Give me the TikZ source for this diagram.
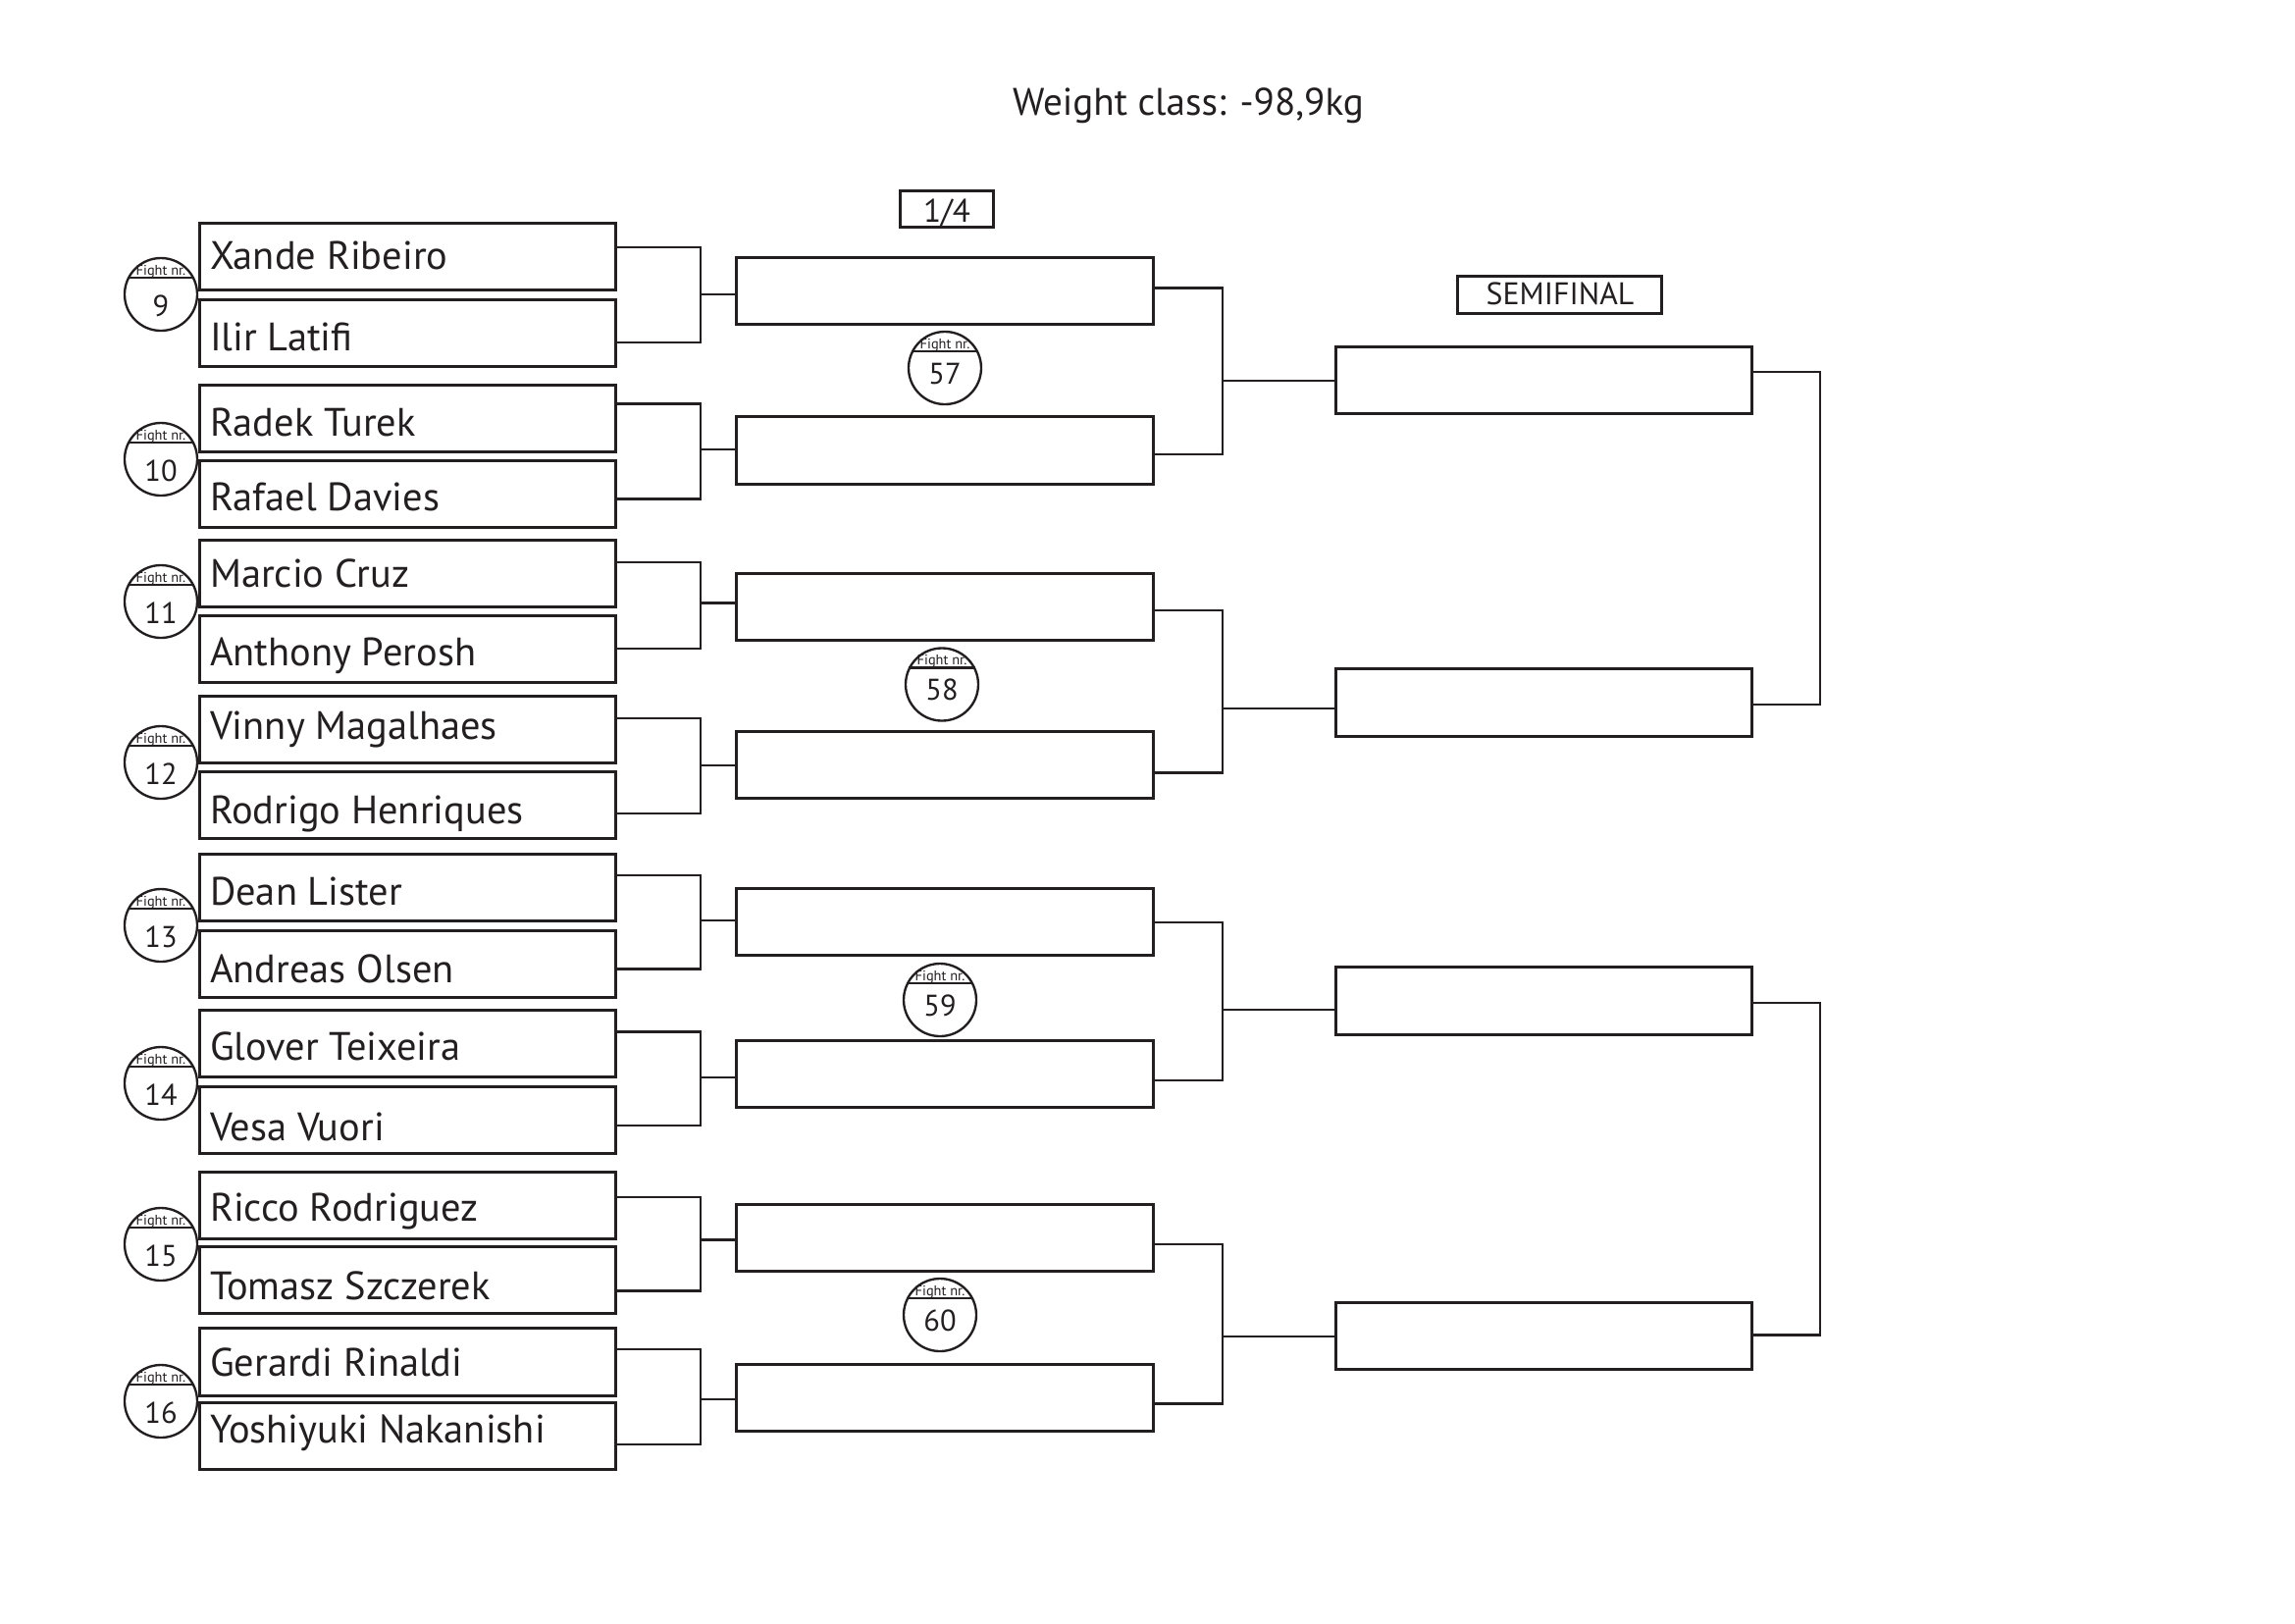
\documentclass[tikz,border=0pt]{standalone}
\usepackage{fontspec}
\setmainfont{PT Sans}
\usetikzlibrary{calc}
\definecolor{ink}{HTML}{231F20}
\begin{document}
\begin{tikzpicture}[x=0.127mm,y=-0.127mm,
  every node/.style={text=ink},
  namebox/.style={draw=ink, line width=1.1pt, rectangle, inner sep=0pt, outer sep=0pt,
    minimum width=53.85mm, minimum height=8.65mm},
  nametext/.style={anchor=base west, inner sep=0pt, font=\fontsize{14.6}{17}\selectfont},
  fightc/.style={draw=ink, line width=0.85pt, circle, fill=white, inner sep=0pt, outer sep=0pt, minimum size=9.4mm},
  fnr/.style={anchor=base, inner sep=0pt, font=\fontsize{5.2}{6}\selectfont},
  fnum/.style={anchor=base, inner sep=0pt, font=\fontsize{11}{13}\selectfont},
  chord/.style={draw=ink, line width=0.85pt},
  br/.style={draw=ink, line width=1pt},
  roundlbl/.style={draw=ink, line width=1pt, rectangle, inner sep=0pt, outer sep=0pt},
  lbltext/.style={anchor=base, inner sep=0pt, font=\fontsize{11.5}{14}\selectfont}]
\useasboundingbox (0,0) rectangle (2339,1654);

% title
\node[anchor=base, inner sep=0pt, font=\fontsize{14.15}{17}\selectfont] (title) at (1211,117) {Weight class: -98,9kg};

% round labels
\node[roundlbl, minimum width=12.1mm, minimum height=4.75mm] (lq) at (965,213) {};
\node[lbltext, font=\fontsize{12}{14}\selectfont] (lqt) at (965,226) {1/4};
\node[roundlbl, minimum width=26.5mm, minimum height=4.85mm] (ls) at (1589.5,300.5) {};
\node[lbltext] (lst) at (1590,310) {SEMIFINAL};

% competitor boxes (index / top / baseline offset above bottom / name)
\foreach \k/\ty/\bo/\nm in {1/226/21/Xande Ribeiro, 2/304.3/16/Ilir Latifi, 3/391/15.7/Radek Turek, 4/468.4/17/Rafael Davies,
  5/549.3/20.7/Marcio Cruz, 6/626/17.4/Anthony Perosh, 7/707.7/23.4/Vinny Magalhaes, 8/785/15/Rodrigo Henriques,
  9/869.3/16.3/Dean Lister, 10/947.3/15.7/Andreas Olsen, 11/1028.3/17.3/Glover Teixeira, 12/1105.7/12.3/Vesa Vuori,
  13/1192.7/17.3/Ricco Rodriguez, 14/1269.3/14/Tomasz Szczerek, 15/1352.5/19.6/Gerardi Rinaldi, 16/1428.3/27.3/Yoshiyuki Nakanishi}{
  \node[namebox] (p\k) at (415.5,\ty+35.5) {};
  \node[nametext] (t\k) at ($(p\k.south west)+(10,-\bo)$) {\nm};
}

% quarter-final boxes
\foreach \k/\ty in {1/261, 2/423.5, 3/583, 4/744, 5/904, 6/1059, 7/1226, 8/1389}{
  \node[namebox, minimum width=53.95mm] (q\k) at (963,\ty+35.5) {};
}

% semifinal boxes
\foreach \k/\ty in {1/352, 2/680.5, 3/984.5, 4/1326}{
  \node[namebox] (s\k) at (1573.5,\ty+35.5) {};
}

% brackets: first round -> quarter-final
\foreach \k/\ya/\yb/\yc in {1/252/349/300, 2/411.7/508.7/458, 3/573/661/614.6, 4/732/829/780,
  5/892/987.5/938, 6/1051.6/1147/1098, 7/1220/1315.7/1263.5, 8/1375/1472/1426}{
  \pgfmathtruncatemacro\ua{2*\k-1}
  \pgfmathtruncatemacro\ub{2*\k}
  \draw[br] (p\ua.east |- 0,\ya) -| (714,\yb) -- (p\ub.east |- 0,\yb);
  \draw[br] (714,\yc) -- (q\k.west |- 0,\yc);
}

% brackets: quarter-final -> semifinal
\foreach \k/\ya/\yb/\yc in {1/293.5/463/388, 2/622/787.6/722, 3/940/1101/1029, 4/1268/1430.5/1362}{
  \pgfmathtruncatemacro\ua{2*\k-1}
  \pgfmathtruncatemacro\ub{2*\k}
  \draw[br] (q\ua.east |- 0,\ya) -| (1246,\yb) -- (q\ub.east |- 0,\yb);
  \draw[br] (1246,\yc) -- (s\k.west |- 0,\yc);
}

% brackets: semifinal (open ended)
\draw[br] (s1.east |- 0,379) -| (1855,718) -- (s2.east |- 0,718);
\draw[br] (s3.east |- 0,1022) -| (1855,1360.5) -- (s4.east |- 0,1360.5);

% first round fight circles
\foreach \n/\cy in {9/300, 10/468, 11/613, 12/777, 13/943, 14/1104, 15/1268, 16/1428}{
  \node[fightc] (c\n) at (164,\cy) {};
  \draw[chord] ($(c\n.center)+(-34,-17)$) -- ($(c\n.center)+(34,-17)$);
  \node[fnr] (cf\n) at ($(c\n.center)+(0,-20)$) {Fight nr.};
  \node[fnum] (cn\n) at ($(c\n.center)+(0,22)$) {\n};
}

% quarter-final fight circles
\foreach \n/\cx/\cy in {57/963/375, 58/960/697.5, 59/958/1019, 60/958/1340}{
  \node[fightc] (c\n) at (\cx,\cy) {};
  \draw[chord] ($(c\n.center)+(-34,-17)$) -- ($(c\n.center)+(34,-17)$);
  \node[fnr] (cf\n) at ($(c\n.center)+(0,-20)$) {Fight nr.};
  \node[fnum] (cn\n) at ($(c\n.center)+(0,16)$) {\n};
}
\end{tikzpicture}
\end{document}
